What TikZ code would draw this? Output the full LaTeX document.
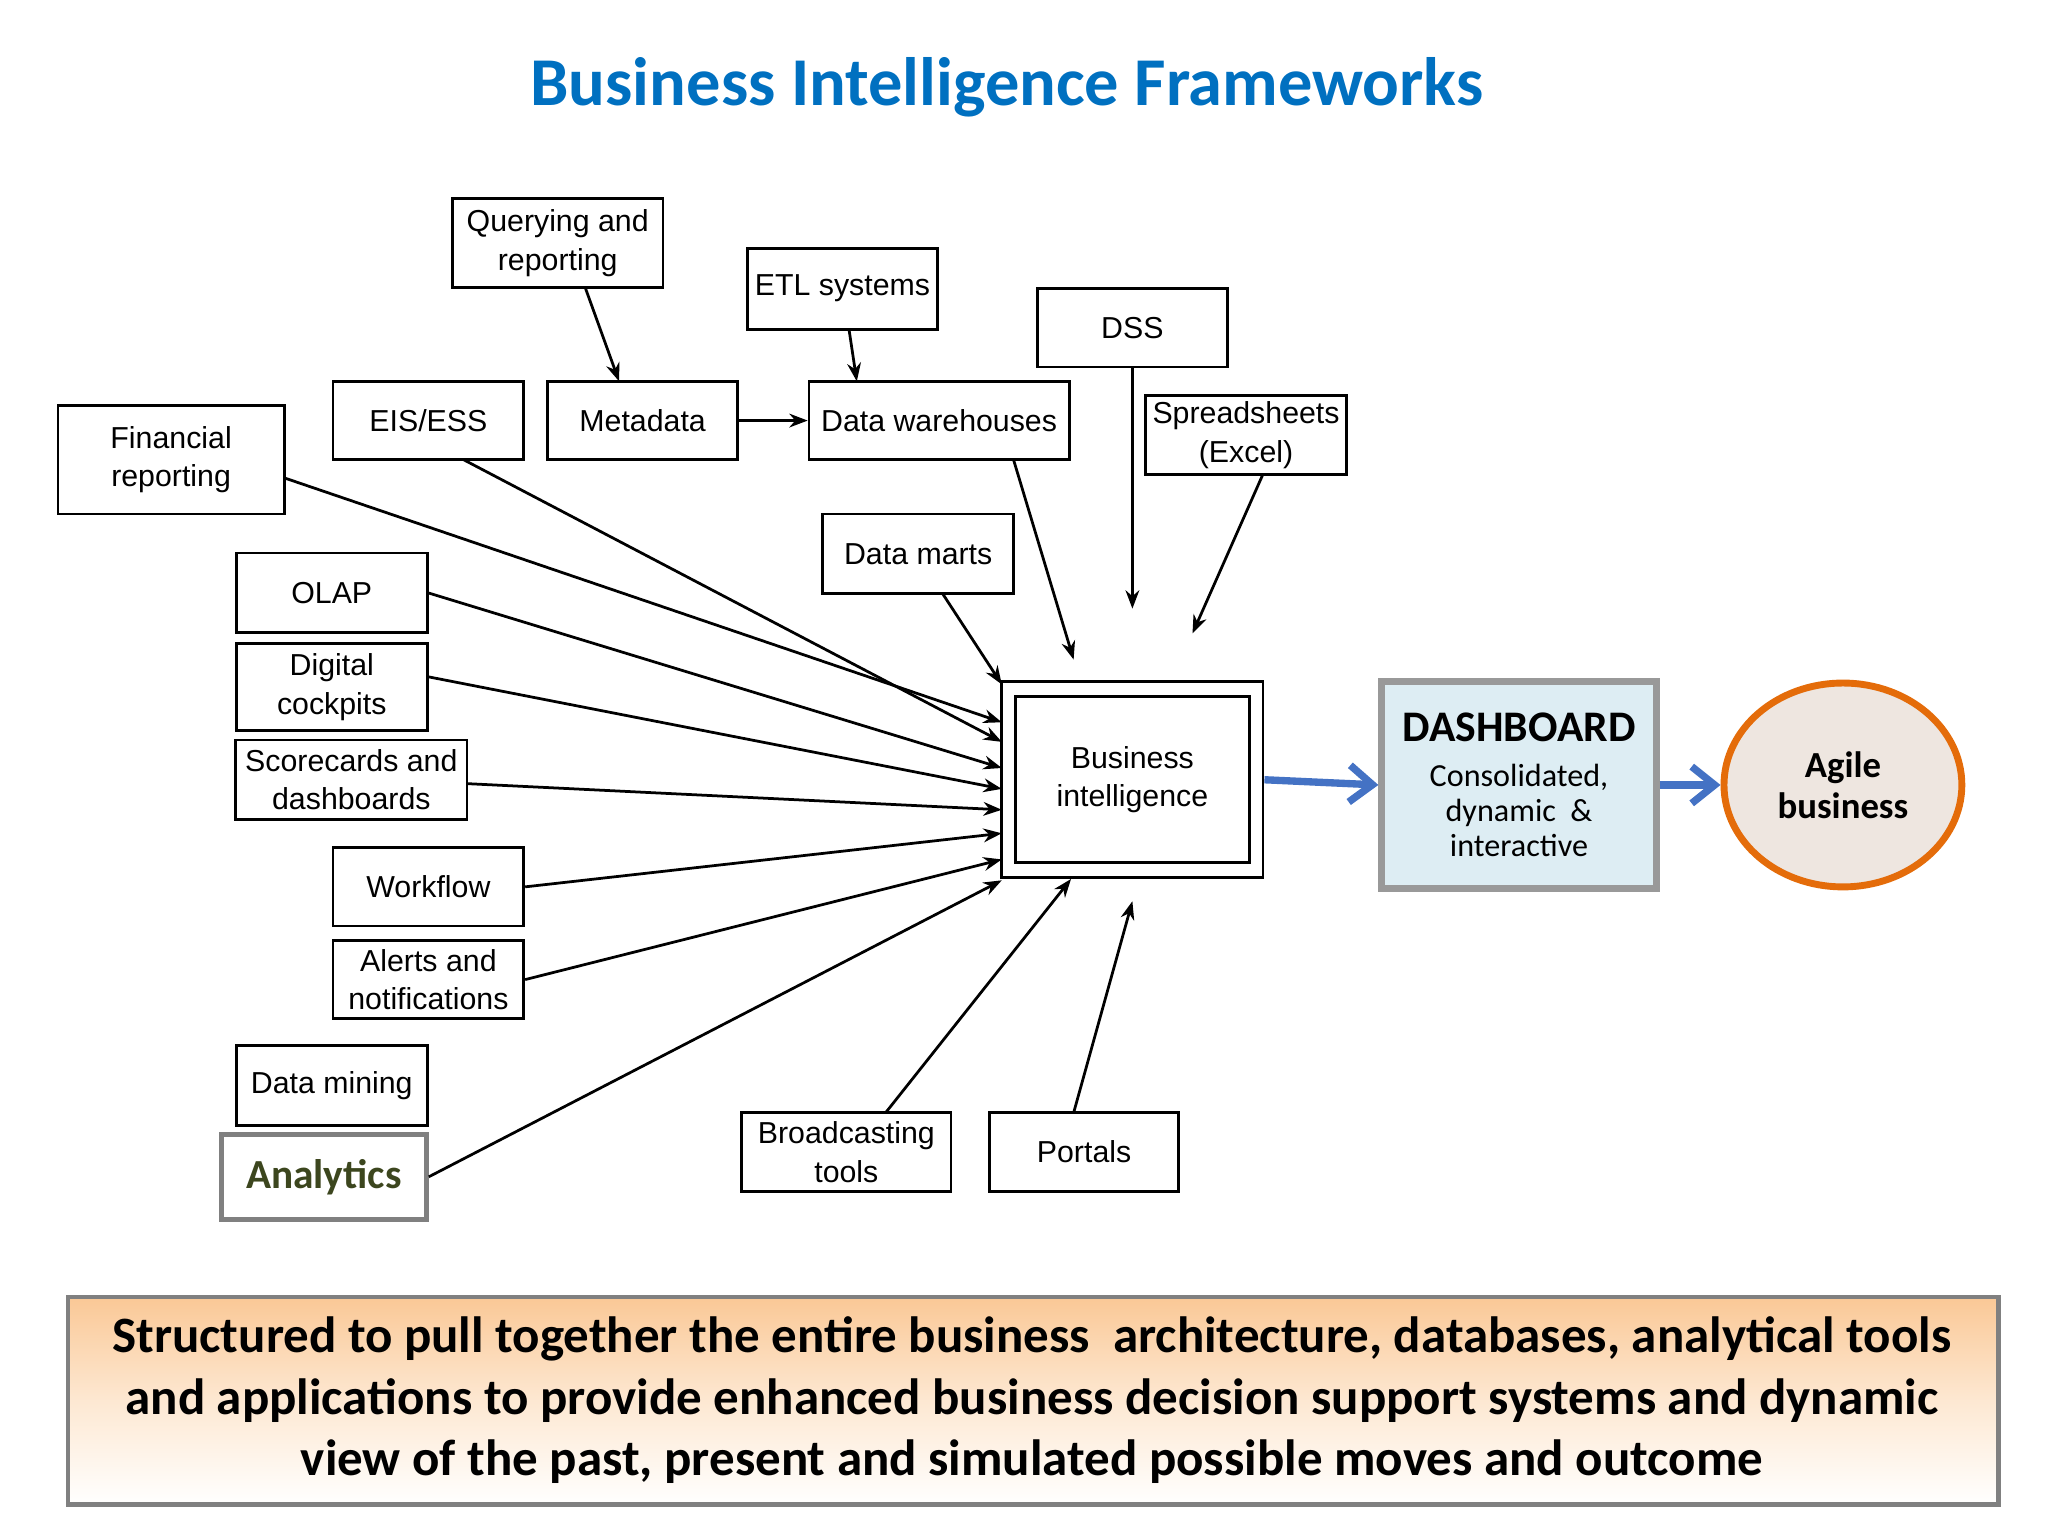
\documentclass[tikz,border=0pt]{standalone}
\usepackage{fontspec}
\setmainfont{Liberation Sans}
\newfontfamily\carl{Carlito}
\usetikzlibrary{arrows.meta,shapes.geometric}
\definecolor{titleblue}{HTML}{0070C0}
\definecolor{arrblue}{HTML}{4472C4}
\begin{document}
\begin{tikzpicture}[x=0.01cm,y=-0.01cm,
 bx/.style={draw,line width=0.6pt,align=center,inner sep=0pt,font=\fontsize{6.6}{8.4}\selectfont},
 ar/.style={-{Stealth[length=4pt,width=3pt]},line width=0.6pt},
 bar/.style={-{Straight Barb[length=5pt,width=8pt]},draw=arrblue,line width=1.6pt}]
\useasboundingbox (0,0) rectangle (1568,1176);
\node[font=\carl\bfseries\fontsize{14.9}{17}\selectfont,text=titleblue] (title) at (771,67) {Business Intelligence Frameworks};
\node[bx,minimum width=1.61cm,minimum height=0.68cm] (qr) at (427,186) {Querying and\\reporting};
\node[bx,minimum width=1.45cm,minimum height=0.62cm] (etl) at (645,221) {ETL systems};
\node[bx,minimum width=1.45cm,minimum height=0.60cm] (dss) at (867,251) {DSS};
\node[bx,minimum width=1.46cm,minimum height=0.60cm] (eis) at (328,322) {EIS/ESS};
\node[bx,minimum width=1.45cm,minimum height=0.60cm] (meta) at (492,322) {Metadata};
\node[bx,minimum width=1.99cm,minimum height=0.60cm] (dw) at (719,322) {Data warehouses};
\node[bx,minimum width=1.54cm,minimum height=0.60cm] (ss) at (954,333) {Spreadsheets\\(Excel)};
\node[bx,minimum width=1.73cm,minimum height=0.83cm] (fin) at (131,352) {Financial\\reporting};
\node[bx,minimum width=1.46cm,minimum height=0.61cm] (dm) at (703,424) {Data marts};
\node[bx,minimum width=1.46cm,minimum height=0.61cm] (olap) at (254,454) {OLAP};
\node[bx,minimum width=1.46cm,minimum height=0.67cm] (dc) at (254,526) {Digital\\cockpits};
\node[bx,minimum width=1.77cm,minimum height=0.61cm] (sc) at (269,597) {Scorecards and\\dashboards};
\node[bx,minimum width=1.46cm,minimum height=0.60cm] (wf) at (328,679) {Workflow};
\node[bx,minimum width=1.46cm,minimum height=0.60cm] (al) at (328,750) {Alerts and\\notifications};
\node[bx,minimum width=1.46cm,minimum height=0.61cm] (dmin) at (254,831) {Data mining};
\node[bx,draw=gray,line width=1pt,minimum width=1.57cm,minimum height=0.65cm,font=\carl\bfseries\fontsize{9}{10}\selectfont,text={rgb,255:red,60;green,70;blue,30}] (an) at (248,901) {Analytics};
\node[bx,minimum width=1.60cm,minimum height=0.61cm] (bt) at (648,882) {Broadcasting\\tools};
\node[bx,minimum width=1.45cm,minimum height=0.60cm] (po) at (830,882) {Portals};
\node[bx,minimum width=2.00cm,minimum height=1.50cm] (bio) at (867,597) {};
\node[bx,minimum width=1.79cm,minimum height=1.27cm] (bi) at (867,597) {Business\\intelligence};
\node[draw=gray!80,line width=1.5pt,fill={rgb,255:red,221;green,237;blue,243},minimum width=2.10cm,minimum height=1.58cm,align=center,inner sep=0pt,font=\carl\fontsize{7}{7.7}\selectfont] (db) at (1163,601) {{\fontsize{9.5}{11}\selectfont\bfseries DASHBOARD}\\[2pt]Consolidated,\\dynamic \ \&\\interactive};
\node[ellipse,draw={rgb,255:red,228;green,108;blue,10},line width=1.5pt,fill={rgb,255:red,238;green,230;blue,224},minimum width=1.82cm,minimum height=1.56cm,inner sep=0pt,align=center,font=\carl\bfseries\fontsize{8}{9}\selectfont] (ag) at (1411,601) {Agile\\business};
\shade[top color={rgb,255:red,250;green,200;blue,150},bottom color=white,middle color={rgb,255:red,253;green,232;blue,210}] (52,993) rectangle (1530,1152);
\draw[gray,line width=1pt] (52,993) rectangle (1530,1152);
\node[align=center,font=\carl\bfseries\fontsize{11.1}{13.4}\selectfont] (txt) at (790,1072) {Structured to pull together the entire business\ \ architecture, databases, analytical tools\\and applications to provide enhanced business decision support systems and dynamic\\view of the past, present and simulated possible moves and outcome};
% free ends
\coordinate (e1) at (767,553); \coordinate (e2) at (767,568); \coordinate (e3) at (767,588);
\coordinate (e4) at (767,604); \coordinate (e5) at (767,620); \coordinate (e6) at (767,638);
\coordinate (e7) at (767,658); \coordinate (e8) at (767,674); \coordinate (e9) at (767,524);
\coordinate (e10) at (822,505); \coordinate (e11) at (867,466); \coordinate (e12) at (913,485);
\coordinate (e13) at (820,673); \coordinate (e14) at (867,690);
\draw[ar] (218,366) -- (e1);
\draw[ar] (355,352) -- (e2);
\draw[ar] (olap.east) -- (e3);
\draw[ar] (327,518) -- (e4);
\draw[ar] (358,600) -- (e5);
\draw[ar] (wf.east) -- (e6);
\draw[ar] (al.east) -- (e7);
\draw[ar] (an.east) -- (e8);
\draw[ar] (722,455) -- (e9);
\draw[ar] (776,352) -- (e10);
\draw[ar] (dss.south) -- (e11);
\draw[ar] (967,363) -- (e12);
\draw[ar] (678,852) -- (e13);
\draw[ar] (822,852) -- (e14);
\draw[ar] (448,220) -- (474,292);
\draw[ar] (650,252) -- (656,292);
\draw[ar] (meta.east) -- (dw.west);
\draw[bar] (bio.east) -- (db.west);
\draw[bar] (db.east) -- (ag.west);
\end{tikzpicture}
\end{document}
